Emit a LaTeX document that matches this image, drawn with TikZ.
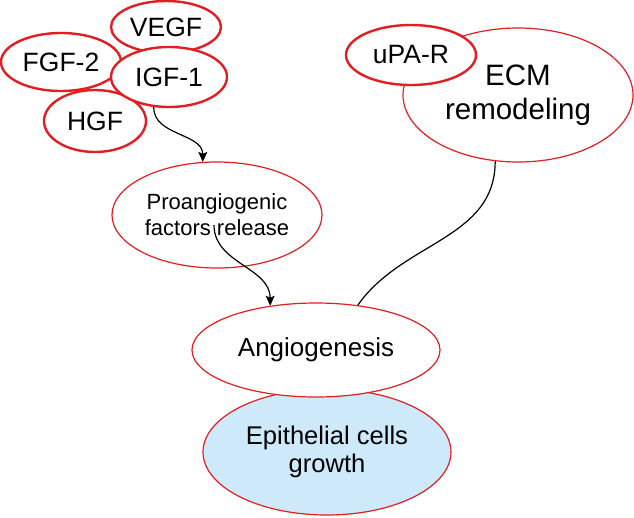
\documentclass[tikz,border=0pt]{standalone}
\usepackage{fontspec}
\setmainfont{Liberation Sans}
\usepackage{tikz}
\usetikzlibrary{arrows}
\usetikzlibrary{arrows.meta}
\usetikzlibrary{shapes}
\definecolor{ringred}{RGB}{225,30,35}
\definecolor{cellblue}{RGB}{205,233,250}
\tikzstyle{factor} = [ellipse, inner sep=0pt, draw=ringred, line width=2.4pt, fill=white, font=\fontsize{26.5}{30}\selectfont]
\tikzstyle{process} = [ellipse, inner sep=0pt, draw=ringred, line width=1.2pt, fill=white, align=center]
\tikzstyle{arrow} = [line width=1.2pt, -{Stealth[length=10pt, width=9pt, inset=2pt]}]
\tikzstyle{link} = [line width=1.2pt]
\begin{document}
\begin{tikzpicture}[node distance=100pt, x=1pt, y=1pt]
\useasboundingbox (0,0) rectangle (634,-517);

\node [factor, minimum width=120pt, minimum height=58pt] (fgf) at (61,-62) {FGF-2};
\node [factor, minimum width=110pt, minimum height=52pt, right of = fgf, xshift=5pt, yshift=35pt] (vegf) {VEGF};
\node [factor, minimum width=102pt, minimum height=62pt, below of = fgf, xshift=34pt, yshift=41pt] (hgf) {HGF};
\node [factor, minimum width=116pt, minimum height=60pt, right of = fgf, xshift=8pt, yshift=-15pt] (igf) {IGF-1};

\node [process, minimum width=210pt, minimum height=106pt, font=\fontsize{22}{26}\selectfont, below of = igf, xshift=48pt, yshift=-38pt] (pro) {Proangiogenic\\factors release};
\coordinate (relsrc) at ([xshift=-3pt, yshift=-10pt]pro.center);

\node [process, fill=cellblue, minimum width=248pt, minimum height=126pt, font=\fontsize{25.6}{28}\selectfont, below of = pro, xshift=110pt, yshift=-137pt] (epi) {Epithelial cells\\growth};
\node [process, minimum width=248pt, minimum height=94pt, font=\fontsize{26}{30}\selectfont, above of = epi, xshift=-11pt, yshift=2pt] (ang) {Angiogenesis};

\node [process, minimum width=230pt, minimum height=134pt, font=\fontsize{29.5}{34}\selectfont, right of = pro, xshift=201pt, yshift=120pt] (ecm) {ECM\\remodeling};
\node [factor, minimum width=130pt, minimum height=60pt, left of = ecm, xshift=-7pt, yshift=40pt] (upa) {uPA-R};

\draw [arrow] (igf.243) to [out=-90, in=90] (pro.105);
\draw [arrow] (relsrc) to [out=-90, in=90] (ang.136);
\draw [link] (ecm.251) to [out=-90, in=55] (ang.47);

\end{tikzpicture}
\end{document}
